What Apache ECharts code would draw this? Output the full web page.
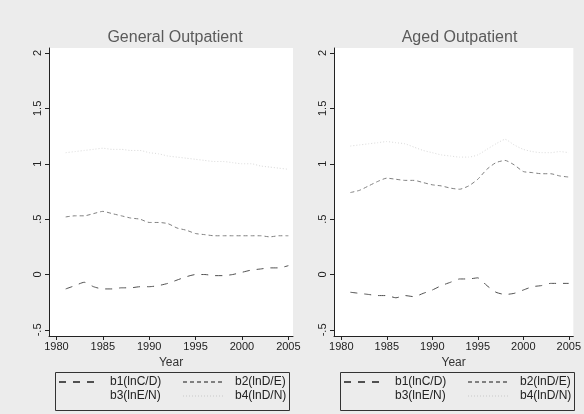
<!DOCTYPE html>
<html>
<head>
<meta charset="utf-8">
<script src="https://cdn.jsdelivr.net/npm/echarts@6/dist/echarts.min.js"></script>
<style>
  html, body { margin: 0; padding: 0; background: #ececec; }
  #chart { width: 584px; height: 414px; }
</style>
</head>
<body>
<div id="chart"></div>
<script>
// ---- data ----
const years = [1981,1982,1983,1984,1985,1986,1987,1988,1989,1990,1991,1992,1993,
               1994,1995,1996,1997,1998,1999,2000,2001,2002,2003,2004,2005];
const xTicks = [1980, 1985, 1990, 1995, 2000, 2005];
const yTicks = [-0.5, 0, 0.5, 1, 1.5, 2];
const panelTitles = ['General Outpatient', 'Aged Outpatient'];
const seriesNames = ['b1(lnC/D)', 'b2(lnD/E)', 'b3(lnE/N)', 'b4(lnD/N)'];

// General Outpatient
const genB1 = [-0.13,-0.10,-0.07,-0.11,-0.13,-0.13,-0.12,-0.12,-0.11,-0.11,-0.10,-0.08,-0.05,
               -0.02,0.00,0.00,-0.01,-0.01,0.00,0.02,0.04,0.05,0.06,0.06,0.08];
const genB2 = [0.52,0.53,0.53,0.55,0.57,0.55,0.53,0.51,0.50,0.47,0.47,0.46,0.42,
               0.40,0.37,0.36,0.35,0.35,0.35,0.35,0.35,0.35,0.34,0.35,0.35];
const genB3 = [];
const genB4 = [1.10,1.11,1.12,1.13,1.14,1.13,1.13,1.12,1.12,1.10,1.09,1.07,1.06,
               1.05,1.04,1.03,1.02,1.02,1.01,1.00,1.00,0.98,0.97,0.96,0.95];

// Aged Outpatient
const agedB1 = [-0.16,-0.17,-0.18,-0.19,-0.19,-0.21,-0.19,-0.20,-0.17,-0.14,-0.10,-0.07,-0.04,
                -0.04,-0.03,-0.10,-0.16,-0.18,-0.17,-0.14,-0.11,-0.10,-0.08,-0.08,-0.08];
const agedB2 = [0.74,0.76,0.80,0.84,0.87,0.86,0.85,0.85,0.83,0.81,0.80,0.78,0.77,
                0.80,0.86,0.95,1.01,1.03,0.99,0.93,0.92,0.91,0.91,0.89,0.88];
const agedB3 = [];
const agedB4 = [1.16,1.17,1.18,1.19,1.20,1.19,1.18,1.15,1.12,1.10,1.08,1.07,1.06,
                1.06,1.08,1.13,1.18,1.22,1.17,1.13,1.11,1.10,1.10,1.11,1.10];

// ---- build chart ----
const FONT = '"Liberation Sans", Arial, sans-serif';
const styles = [
  { color: '#505050', type: [7, 7], width: 1 },
  { color: '#808080', type: [4, 3], width: 1 },
  { color: 'rgba(0,0,0,0)', type: 'solid', width: 1 },
  { color: '#dadada', type: [1, 2], width: 1 }
];
const panels = [
  [genB1, genB2, genB3, genB4],
  [agedB1, agedB2, agedB3, agedB4]
];
const grids = [
  { left: 49, top: 48, width: 244, height: 288 },
  { left: 334, top: 48, width: 243, height: 288 }
];

function yFmt(v) {
  if (v === 0) return '0';
  return String(v).replace(/^0\./, '.').replace(/^-0\./, '-.');
}

const option = {
  backgroundColor: '#ececec',
  animation: false,
  title: panelTitles.map((t, i) => ({
    text: t,
    left: grids[i].left + grids[i].width / 2 - 1,
    top: 25,
    textAlign: 'center',
    textStyle: { fontFamily: FONT, fontSize: 16, fontWeight: 'normal', color: '#5a5a5a' }
  })),
  grid: grids.map(g => Object.assign({
    show: true, backgroundColor: '#ffffff', borderWidth: 0, containLabel: false
  }, g)),
  xAxis: grids.map((g, i) => ({
    type: 'value', gridIndex: i, min: 1979.2, max: 2005.5,
    name: 'Year', nameLocation: 'middle', nameGap: 19,
    nameTextStyle: { fontFamily: FONT, fontSize: 12, color: '#333' },
    axisLine: { show: true, onZero: false, lineStyle: { color: '#222', width: 1 } },
    axisTick: { show: true, length: 4, customValues: xTicks, lineStyle: { color: '#222' } },
    axisLabel: { customValues: xTicks, margin: 5, fontFamily: FONT, fontSize: 11, color: '#222',
                 formatter: v => String(Math.round(v)) },
    splitLine: { show: false }
  })),
  yAxis: grids.map((g, i) => ({
    type: 'value', gridIndex: i, min: -0.555, max: 2.045,
    axisLine: { show: true, onZero: false, lineStyle: { color: '#222', width: 1 } },
    axisTick: { show: true, length: 4, customValues: yTicks, lineStyle: { color: '#222' } },
    axisLabel: { customValues: yTicks, rotate: 90, margin: 6, fontFamily: FONT, fontSize: 11,
                 color: '#222', formatter: yFmt },
    splitLine: { show: false }
  })),
  legend: [],
  graphic: grids.map(g => ({
    type: 'rect',
    shape: { x: g.left + 6.5, y: 372.5, width: 234, height: 38 },
    style: { fill: 'rgba(0,0,0,0)', stroke: '#333', lineWidth: 1 },
    z: 10
  })),
  series: []
};

panels.forEach((vals, p) => {
  vals.forEach((arr, k) => {
    option.series.push({
      type: 'line',
      name: seriesNames[k],
      xAxisIndex: p, yAxisIndex: p,
      data: arr.map((v, j) => [years[j], v]),
      symbol: 'none',
      smooth: 0.2,
      color: styles[k].color,
      lineStyle: { color: styles[k].color, type: styles[k].type, width: styles[k].width }
    });
  });
  const base = grids[p].left + 9;
  [[0, 2], [1, 3]].forEach((col, c) => {
    option.legend.push({
      orient: 'vertical',
      left: c === 0 ? base : base + 124,
      top: 376,
      padding: 0,
      itemGap: 2,
      itemWidth: c === 0 ? 42 : 40,
      itemHeight: 8,
      selectedMode: false,
      itemStyle: { opacity: 0 },
      data: col.map(k => seriesNames[k]),
      textStyle: { fontFamily: FONT, fontSize: 12, color: '#222',
                   padding: [0, 0, 0, c === 0 ? 4 : 7] }
    });
  });
});

const chart = echarts.init(document.getElementById('chart'), null, { renderer: 'canvas' });
chart.setOption(option);
</script>
</body>
</html>
